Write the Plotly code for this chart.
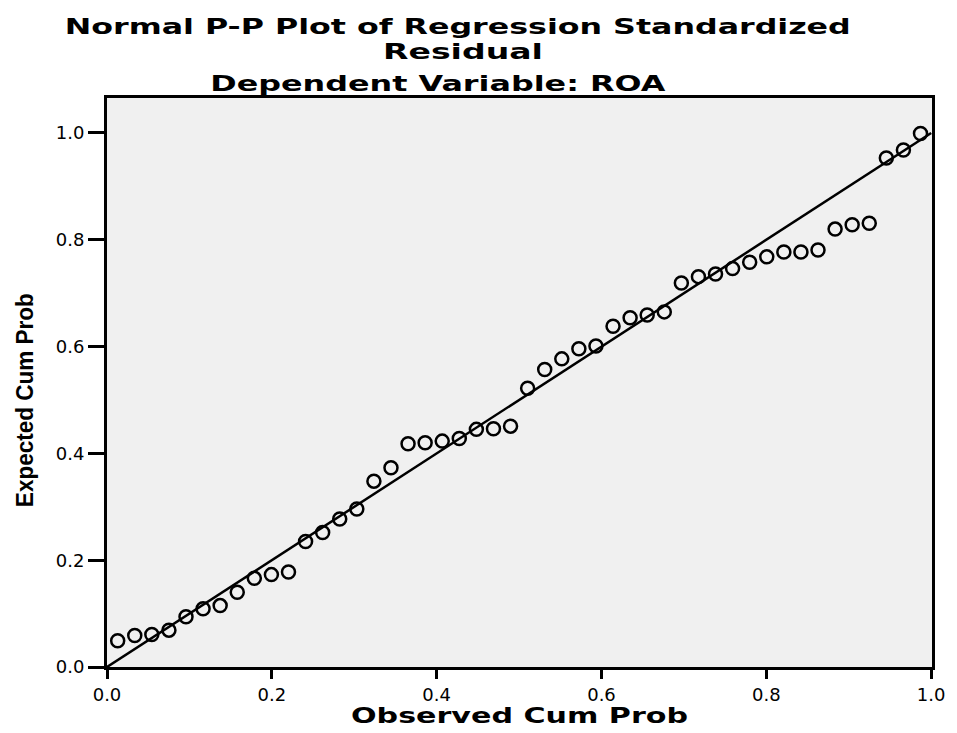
import json
import plotly.graph_objects as go

n = 48
observed = [(i - 0.375) / (n + 0.25) for i in range(1, n + 1)]
expected = [
    0.049, 0.059, 0.061, 0.069, 0.094, 0.109, 0.115, 0.140, 0.166, 0.173,
    0.178, 0.235, 0.252, 0.277, 0.296, 0.348, 0.373, 0.418, 0.420, 0.423,
    0.428, 0.445, 0.446, 0.451, 0.522, 0.557, 0.577, 0.596, 0.601, 0.638,
    0.654, 0.659, 0.665, 0.719, 0.731, 0.736, 0.746, 0.758, 0.768, 0.777,
    0.777, 0.781, 0.820, 0.828, 0.831, 0.953, 0.968, 0.999,
]
ref_line = [0.0, 1.0]
tick_vals = [0.0, 0.2, 0.4, 0.6, 0.8, 1.0]
tick_text = ["0.0", "0.2", "0.4", "0.6", "0.8", "1.0"]
title_lines = ["Normal P-P Plot of Regression Standardized", "Residual",
               "Dependent Variable: ROA"]
x_title = "Observed Cum Prob"
y_title = "Expected Cum Prob"

fig = go.Figure()
fig.add_trace(go.Scatter(x=ref_line, y=ref_line, mode="lines",
                         line=dict(color="black", width=2.5), hoverinfo="skip"))
fig.add_trace(go.Scatter(x=observed, y=expected, mode="markers",
                         marker=dict(symbol="circle-open", size=13,
                                     color="black", line=dict(width=2.5))))

W, H = 957, 733
L, R, T, B = 107, 21, 98, 66
pw, ph = W - L - R, H - T - B

def px(xp):
    return (xp - L) / pw

def py(yp):
    return (H - B - yp) / ph

wide = "DejaVu Sans, Verdana, sans-serif"
# (text, centre x, centre y, font size, stretched width in px)
placements = [
    (title_lines[0], 460, 26.5, 21.5, 786),
    (title_lines[1], 465, 52, 21.5, 160),
    (title_lines[2], 440, 84, 21.5, 455),
    (x_title, 522, 716, 21, 337),
]
lengths = {}
for txt, cx, cy, fs, wl in placements:
    fig.add_annotation(text=txt, x=px(cx), y=py(cy), xref="paper", yref="paper",
                       xanchor="center", yanchor="middle", showarrow=False,
                       font=dict(family=wide, size=fs, color="black", weight="bold"))
    lengths[txt] = wl

fig.add_annotation(text=y_title, x=px(25), y=py(400),
                   xref="paper", yref="paper", xanchor="center", yanchor="middle",
                   textangle=-90, showarrow=False,
                   font=dict(family="Liberation Sans Narrow, Arial Narrow, Liberation Sans",
                             size=23, color="black", weight="bold"))
lengths[y_title] = 214

axis_common = dict(showgrid=False, zeroline=False, showline=True, linecolor="black",
                   linewidth=3, mirror=True, ticks="outside", tickwidth=3,
                   tickcolor="black", tickvals=tick_vals, ticktext=tick_text,
                   tickfont=dict(family=wide, size=18, color="black"))

fig.update_layout(
    width=W, height=H, margin=dict(l=L, r=R, t=T, b=B),
    paper_bgcolor="white", plot_bgcolor="#F0F0F0", showlegend=False,
    xaxis=dict(range=[0, 1.001], ticklen=9, **axis_common),
    yaxis=dict(range=[0, 1.0655], ticklen=16, **axis_common),
)

post = """
document.body.style.margin='0';
document.body.style.overflow='hidden';
var LENS = %s;
function stretchTexts(){
  document.querySelectorAll('text.annotation-text').forEach(function(t){
    var w = LENS[t.textContent];
    if (w) { t.setAttribute('textLength', w); t.setAttribute('lengthAdjust', 'spacingAndGlyphs'); }
  });
}
stretchTexts();
setTimeout(stretchTexts, 0);
setTimeout(stretchTexts, 200);
""" % json.dumps(lengths)

fig.write_html("out.html", config={"displayModeBar": False}, post_script=post)
